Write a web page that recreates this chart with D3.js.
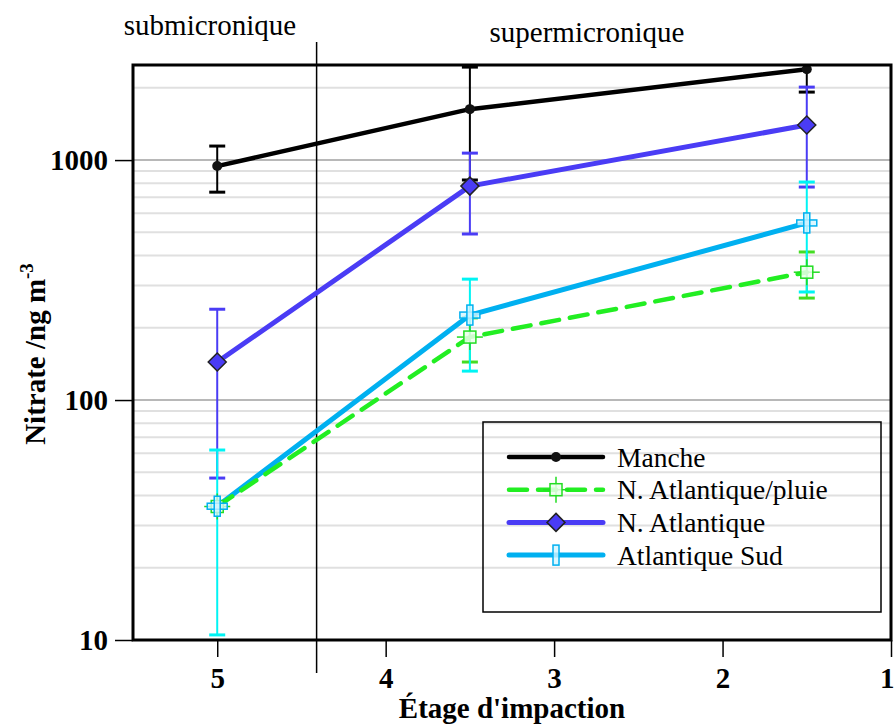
<!DOCTYPE html>
<html><head><meta charset="utf-8">
<script src="https://cdn.jsdelivr.net/npm/d3@7"></script>
<style>body{margin:0;background:#fff}</style>
</head><body><svg id="c" width="895" height="726"></svg>
<script>
// ---- data ----
const stages = [5, 3.5, 1.5];
const xTicks = [5, 4, 3, 2, 1];
const yTicks = [10, 100, 1000];
const seriesNames = ["Manche", "N. Atlantique/pluie", "N. Atlantique", "Atlantique Sud"];
const mancheValues = [944, 1630, 2390];
const mancheLow = [735, 826, 1920];
const mancheHigh = [1144, 2440, 2900];
const pluieValues = [36, 183, 341];
const pluieLow = [36, 144, 266];
const pluieHigh = [36, 220, 414];
const natlValues = [144, 779, 1400];
const natlLow = [47.3, 492, 772];
const natlHigh = [239, 1069, 2014];
const sudValues = [36.1, 226, 547];
const sudLow = [10.5, 132, 282];
const sudHigh = [61.9, 319, 810];
const sizeClassLabels = ["submicronique", "supermicronique"];
const sizeDivider = 4.41;
const xTitle = "Étage d'impaction";

// ---- setup ----
const svg = d3.select("#c");
const L = 133, R = 891, T = 65, B = 640;
const x = d3.scaleLinear().domain([5.5, 1]).range([L, R]);
const y = d3.scaleLog().domain([10, 2490]).range([B, T]);
const FONT = "'Liberation Serif','Times New Roman',serif";

svg.append("defs").append("clipPath").attr("id", "clip")
  .append("rect").attr("x", L).attr("y", T).attr("width", R - L).attr("height", B - T);

// gridlines
const minor = [];
[10, 100, 1000].forEach(d => { for (let k = 2; k <= 9; k++) if (d * k <= 2490) minor.push(d * k); });
svg.append("g").selectAll("line").data(minor).join("line")
  .attr("x1", L).attr("x2", R).attr("y1", d => y(d)).attr("y2", d => y(d))
  .attr("stroke", "#e0e0e0").attr("stroke-width", 2);
svg.append("g").selectAll("line").data([100, 1000]).join("line")
  .attr("x1", L).attr("x2", R).attr("y1", d => y(d)).attr("y2", d => y(d))
  .attr("stroke", "#a0a0a0").attr("stroke-width", 1.5);

// divider
svg.append("line").attr("x1", x(sizeDivider)).attr("x2", x(sizeDivider))
  .attr("y1", 42).attr("y2", 673).attr("stroke", "#000").attr("stroke-width", 1.5);

const series = [
  { name: seriesNames[0], v: mancheValues, lo: mancheLow, hi: mancheHigh, color: "#000", err: "#000", width: 4.5, dash: null, marker: "circle" },
  { name: seriesNames[1], v: pluieValues, lo: pluieLow, hi: pluieHigh, color: "#22ee22", err: "#44dd22", width: 4.5, dash: "18,11", marker: "square" },
  { name: seriesNames[2], v: natlValues, lo: natlLow, hi: natlHigh, color: "#4a3cf5", err: "#4a3cf5", width: 5, dash: null, marker: "diamond" },
  { name: seriesNames[3], v: sudValues, lo: sudLow, hi: sudHigh, color: "#00b0f0", err: "#00f4f4", width: 5, dash: null, marker: "bar" }
];

// error bars
const eg = svg.append("g").attr("clip-path", "url(#clip)");
series.forEach(s => {
  stages.forEach((st, i) => {
    if (s.lo[i] === s.hi[i]) return;
    const cx = x(st);
    eg.append("line").attr("x1", cx).attr("x2", cx).attr("y1", y(s.lo[i])).attr("y2", y(s.hi[i]))
      .attr("stroke", s.err).attr("stroke-width", 2);
    [s.lo[i], s.hi[i]].forEach(v => {
      eg.append("line").attr("x1", cx - 8).attr("x2", cx + 8).attr("y1", y(v)).attr("y2", y(v))
        .attr("stroke", s.err).attr("stroke-width", 3);
    });
  });
});

// lines
const line = d3.line().x((d, i) => x(stages[i])).y(d => y(d));
const lg = svg.append("g").attr("clip-path", "url(#clip)");
[0, 2, 3, 1].forEach(k => {
  const s = series[k];
  lg.append("path").attr("d", line(s.v)).attr("fill", "none")
    .attr("stroke", s.color).attr("stroke-width", s.width)
    .attr("stroke-linecap", "round").attr("stroke-linejoin", "round")
    .attr("stroke-dasharray", s.dash);
});

function marker(g, type, cx, cy, legend) {
  if (type === "circle") {
    g.append("circle").attr("cx", cx).attr("cy", cy).attr("r", 5).attr("fill", "#111");
  } else if (type === "diamond") {
    const r = 9;
    g.append("path").attr("d", `M${cx},${cy - r}L${cx + r},${cy}L${cx},${cy + r}L${cx - r},${cy}Z`)
      .attr("fill", "#4a3cf5").attr("stroke", "#222").attr("stroke-width", 1.5);
  } else if (type === "square") {
    const gg = g.append("g").attr("stroke", "#22dd22").attr("stroke-width", 1.5);
    gg.append("line").attr("x1", cx - 13).attr("x2", cx + 13).attr("y1", cy).attr("y2", cy);
    gg.append("line").attr("x1", cx).attr("x2", cx).attr("y1", cy - 13).attr("y2", cy + 13);
    gg.append("rect").attr("x", cx - 6).attr("y", cy - 6).attr("width", 12).attr("height", 12)
      .attr("fill", "rgba(235,255,235,0.85)");
  } else if (type === "bar") {
    const gg = g.append("g").attr("stroke", "#00b0f0").attr("stroke-width", 1.5).attr("fill", "rgba(210,245,255,0.8)");
    if (!legend) gg.append("rect").attr("x", cx - 10).attr("y", cy - 3).attr("width", 20).attr("height", 6);
    gg.append("rect").attr("x", cx - 3).attr("y", cy - 10).attr("width", 6).attr("height", 20);
  }
}
const mg = svg.append("g");
series.forEach(s => stages.forEach((st, i) => marker(mg, s.marker, x(st), y(s.v[i]), false)));

// frame
svg.append("rect").attr("x", L).attr("y", T).attr("width", R - L).attr("height", B - T)
  .attr("fill", "none").attr("stroke", "#000").attr("stroke-width", 3);

// axes
const ya = svg.append("g").attr("transform", `translate(${L},0)`)
  .call(d3.axisLeft(y).tickValues(yTicks).tickFormat(d3.format("d")).tickSize(18).tickPadding(7));
ya.select(".domain").remove();
ya.selectAll("line").attr("stroke-width", 1.5);
ya.selectAll("text").attr("font-family", FONT).attr("font-size", 29).attr("font-weight", "bold").attr("fill", "#000");

const xa = svg.append("g").attr("transform", `translate(0,${B})`)
  .call(d3.axisBottom(x).tickValues(xTicks).tickFormat(d3.format("d")).tickSize(17).tickPadding(10));
xa.select(".domain").remove();
xa.selectAll("line").attr("stroke-width", 1.5);
xa.selectAll("text").attr("font-family", FONT).attr("font-size", 29).attr("font-weight", "bold").attr("fill", "#000")
  .filter(d => d === 1).attr("text-anchor", "end").attr("dx", 3);

// titles
svg.append("text").attr("x", (L + R) / 2).attr("y", 718).attr("text-anchor", "middle")
  .attr("font-family", FONT).attr("font-size", 29).attr("font-weight", "bold").text(xTitle);
const yt = svg.append("text").attr("transform", "translate(45,354) rotate(-90)").attr("text-anchor", "middle")
  .attr("font-family", FONT).attr("font-size", 29).attr("font-weight", "bold");
yt.append("tspan").text("Nitrate /ng m");
yt.append("tspan").attr("font-size", 19).attr("dy", -12).text("-3");

svg.append("text").attr("x", 210).attr("y", 35).attr("text-anchor", "middle")
  .attr("font-family", FONT).attr("font-size", 29).text(sizeClassLabels[0]);
svg.append("text").attr("x", 587).attr("y", 42).attr("text-anchor", "middle")
  .attr("font-family", FONT).attr("font-size", 29).text(sizeClassLabels[1]);

// legend
const leg = svg.append("g");
leg.append("rect").attr("x", 483).attr("y", 422).attr("width", 398).attr("height", 190)
  .attr("fill", "none").attr("stroke", "#000").attr("stroke-width", 1.5);
series.forEach((s, i) => {
  const ly = 457 + i * 32.7;
  leg.append("line").attr("x1", 509).attr("x2", 603).attr("y1", ly).attr("y2", ly)
    .attr("stroke", s.color).attr("stroke-width", s.width).attr("stroke-linecap", "round")
    .attr("stroke-dasharray", s.dash);
  marker(leg, s.marker, 556, ly, true);
  leg.append("text").attr("x", 617).attr("y", ly).attr("dy", "0.35em")
    .attr("font-family", FONT).attr("font-size", 27.5).text(s.name);
});
</script></body></html>
